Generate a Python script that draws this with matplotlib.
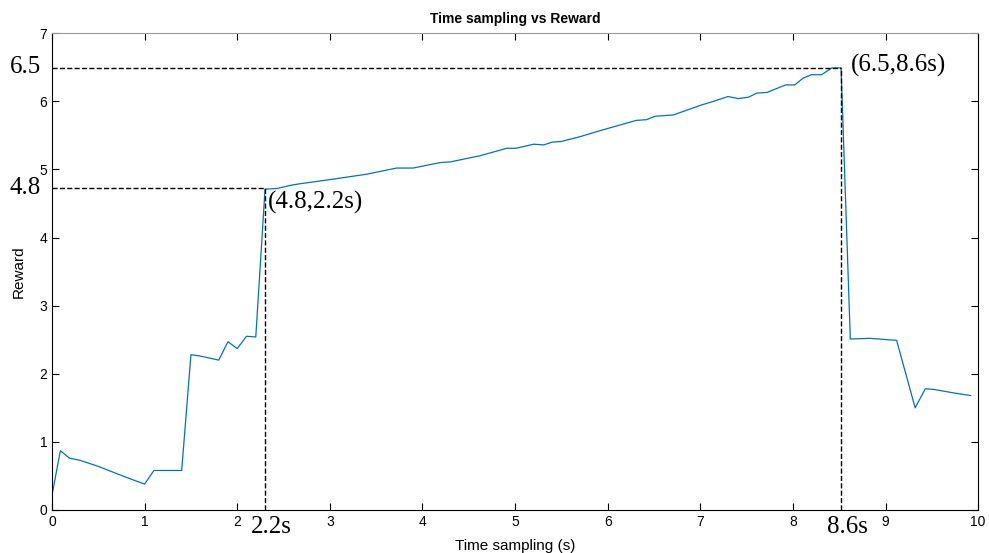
import matplotlib.pyplot as plt

# Reward curve
time_s = [0.0, 0.09, 0.19, 0.30, 0.50, 0.80, 1.00, 1.10, 1.40, 1.50, 1.60, 1.80,
          1.90, 2.00, 2.10, 2.20, 2.24, 2.30, 2.43, 2.59, 2.68, 3.00, 3.40, 3.72,
          3.90, 4.19, 4.30, 4.62, 4.91, 5.01, 5.20, 5.31, 5.40, 5.50, 5.70, 5.92,
          6.31, 6.42, 6.51, 6.71, 7.00, 7.12, 7.30, 7.41, 7.52, 7.61, 7.72, 7.92,
          8.02, 8.11, 8.20, 8.31, 8.42, 8.52, 8.62, 8.83, 9.12, 9.32, 9.43, 9.52,
          9.73, 9.92]
reward = [0.22, 0.87, 0.76, 0.73, 0.64, 0.48, 0.38, 0.58, 0.58, 2.28, 2.26, 2.20,
          2.47, 2.37, 2.55, 2.54, 3.40, 4.71, 4.72, 4.77, 4.79, 4.85, 4.93, 5.02,
          5.02, 5.10, 5.11, 5.20, 5.31, 5.31, 5.37, 5.36, 5.40, 5.41, 5.48, 5.57,
          5.72, 5.73, 5.78, 5.80, 5.94, 5.99, 6.07, 6.04, 6.06, 6.12, 6.13, 6.24,
          6.24, 6.34, 6.39, 6.39, 6.49, 6.49, 2.51, 2.52, 2.49, 1.50, 1.78, 1.77,
          1.72, 1.68]

# marked points: (x position, y value, text labels)
marks = [(2.30, 4.72, '4.8', '2.2s', '(4.8,2.2s)'),
         (8.52, 6.49, '6.5', '8.6s', '(6.5,8.6s)')]

fig = plt.figure(figsize=(9.89, 5.53), dpi=100)
ax = fig.add_axes([0.0526, 0.0778, 0.9364, 0.8622])

ax.plot(time_s, reward, color='#0072BD', linewidth=0.9)

serif = 'Liberation Serif'
for xm, ym, ylab, xlab, pt in marks:
    ax.plot([0, xm], [ym, ym], 'k--', linewidth=1)
    ax.plot([xm, xm], [0, ym], 'k--', linewidth=1)
    ax.text(-0.29, ym + 0.01, ylab, family=serif, fontsize=18, ha='center', va='center', clip_on=False)
    ax.text(xm + 0.07, -0.25, xlab, family=serif, fontsize=18, ha='center', va='center', clip_on=False)

# point labels: the first sits below its corner, the second beside it
ax.text(marks[0][0] + 0.03, marks[0][1] - 0.2, marks[0][4], family=serif, fontsize=18, ha='left', va='center')
ax.text(marks[1][0] + 0.11, marks[1][1] + 0.03, marks[1][4], family=serif, fontsize=18, ha='left', va='center')

ax.set_xlim(0, 10)
ax.set_ylim(0, 7)
ax.set_xticks(range(0, 11))
ax.set_yticks(range(0, 8))
ax.tick_params(direction='in', top=True, right=True, labelsize=10, length=5, width=0.8)
for tl in ax.get_xticklabels() + ax.get_yticklabels():
    tl.set_family('Liberation Sans')
for sp in ax.spines.values():
    sp.set_linewidth(0.8)
ax.spines['top'].set_color('#999999')

ax.set_title('Time sampling vs Reward', fontsize=10, fontweight='bold', family='Liberation Sans', pad=7)
ax.set_xlabel('Time sampling (s)', fontsize=11, family='Liberation Sans', labelpad=7)
ax.set_ylabel('Reward', fontsize=11, family='Liberation Sans', labelpad=10)

fig.savefig('out.png', dpi=100)
